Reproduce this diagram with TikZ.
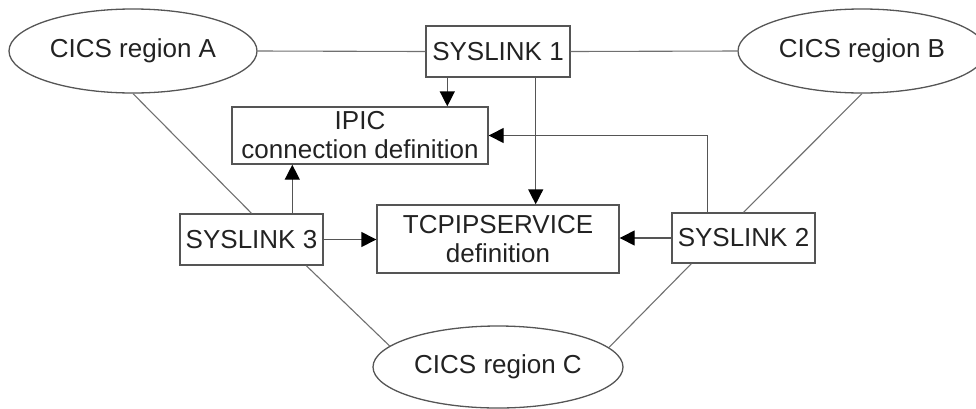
\documentclass[tikz,border=0pt]{standalone}
\usepackage{fontspec}
\setmainfont{Liberation Sans}
\usetikzlibrary{shapes.geometric,arrows.meta,calc}
\definecolor{boxcol}{HTML}{555555}
\definecolor{linecol}{HTML}{707070}
\definecolor{txtcol}{HTML}{222222}
\tikzset{
  every node/.style={font=\fontsize{26}{29}\selectfont, text=txtcol},
  boxnode/.style={draw=boxcol, line width=1.4pt, rectangle, inner sep=0pt, align=center},
  regionnode/.style={draw=boxcol, line width=1.3pt, ellipse, inner sep=0pt, minimum width=248pt, minimum height=84pt},
  plainline/.style={draw=linecol, line width=1.1pt},
  arrline/.style={draw=boxcol, line width=1.4pt, -{Triangle[length=15pt,width=15pt,color=black]}}
}
\begin{document}
\begin{tikzpicture}[x=1pt,y=-1pt]
\useasboundingbox (0,0) rectangle (976,408);
% nodes
\node[regionnode] (A) at (133,51) {CICS region A};
\node[regionnode] (B) at (862,51) {CICS region B};
\node[regionnode, minimum width=250pt, minimum height=82pt] (C) at (498,367) {CICS region C};
\node[boxnode, minimum width=144pt, minimum height=51pt] (S1) at (498,51.5) {SYSLINK 1};
\node[boxnode, minimum width=256pt, minimum height=57pt] (IPIC) at (360,135.5) {IPIC\\connection definition};
\node[boxnode, minimum width=143pt, minimum height=51pt] (S3) at (251.5,239.5) {SYSLINK 3};
\node[boxnode, minimum width=242pt, minimum height=68pt] (TCP) at (498,239) {TCPIPSERVICE\\definition};
\node[boxnode, minimum width=143pt, minimum height=50pt] (S2) at (743.5,238) {SYSLINK 2};
% plain connectors
\draw[plainline] (A.east) -- (S1.west);
\draw[plainline] (S1.east) -- (B.west);
\draw[plainline] (A.south) -- (S3.north);
\draw[plainline] (B.south) -- (S2.north);
\draw[plainline] ($(S3.south west)+(127,0)$) -- (C.169.8);
\draw[plainline] ($(S2.south west)+(20,0)$) -- (C.10.2);
% arrows
\draw[arrline] ($(S1.south west)+(22,0)$) coordinate (t1) -- (t1 |- IPIC.north);
\draw[arrline] ($(S1.south east)+(-35,0)$) coordinate (t2) -- (t2 |- TCP.north);
\draw[arrline] ($(S3.north west)+(113,0)$) coordinate (t3) -- (t3 |- IPIC.south);
\draw[arrline] (S3.east) -- (S3.east -| TCP.west);
\draw[arrline] (S2.west) -- (S2.west -| TCP.east);
\draw[arrline] ($(S2.north west)+(36,0)$) |- (IPIC.east);
\end{tikzpicture}
\end{document}
